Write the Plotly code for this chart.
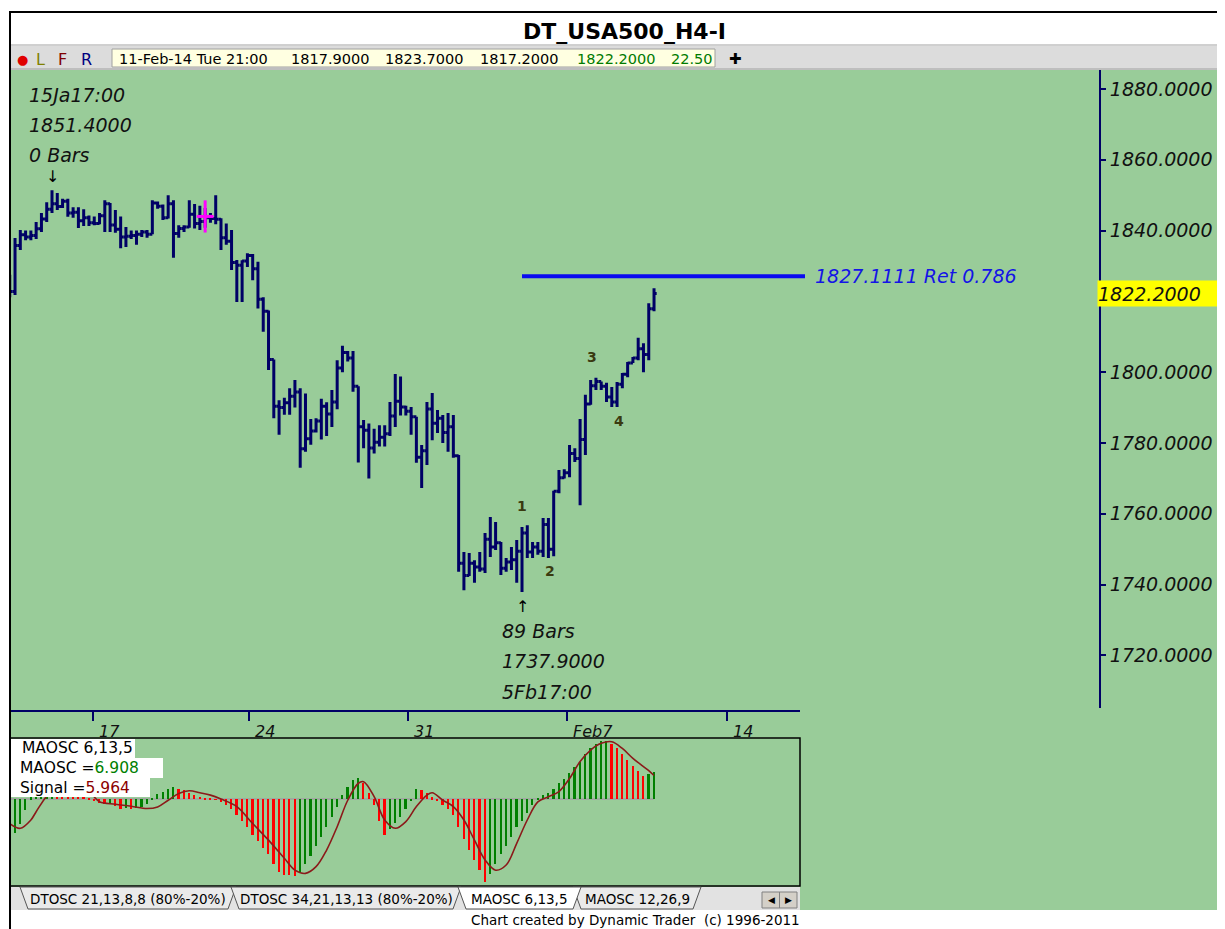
import plotly.graph_objects as go

# ---------------- data ----------------
bar_open = [1823.5, 1822.8, 1835.8, 1838.8, 1838.2, 1838.6, 1840.5, 1843.3, 1846.0, 1847.6,
            1846.8, 1848.3, 1845.0, 1845.2, 1842.8, 1843.6, 1842.2, 1842.0, 1844.2, 1847.6,
            1841.6, 1840.4, 1838.2, 1838.4, 1838.6, 1839.0, 1839.6, 1839.0, 1847.8, 1846.9,
            1843.6, 1847.6, 1839.2, 1840.6, 1841.0, 1844.6, 1842.0, 1842.6, 1843.6, 1843.4,
            1843.2, 1838.0, 1837.0, 1831.0, 1830.2, 1831.4, 1833.0, 1829.2, 1820.6, 1817.2,
            1803.6, 1790.4, 1790.0, 1791.4, 1793.2, 1794.4, 1778.4, 1781.2, 1783.4, 1786.2,
            1790.4, 1788.2, 1791.6, 1801.2, 1805.6, 1804.0, 1796.0, 1784.6, 1783.6, 1778.6,
            1780.2, 1781.6, 1782.6, 1787.6, 1791.8, 1790.2, 1789.0, 1787.4, 1776.0, 1777.8,
            1789.6, 1785.6, 1787.0, 1783.0, 1784.6, 1776.4, 1746.0, 1742.6, 1746.0, 1745.0,
            1744.4, 1752.8, 1750.6, 1751.8, 1744.6, 1746.4, 1747.0, 1749.4, 1754.6, 1749.2,
            1750.6, 1749.4, 1757.0, 1750.0, 1766.4, 1770.2, 1771.6, 1777.0, 1775.6, 1781.0,
            1791.0, 1796.2, 1797.4, 1796.0, 1793.0, 1791.6, 1796.6, 1799.4, 1802.6, 1804.0,
            1806.6, 1805.0, 1817.9]
bar_high = [1827.5, 1837.9, 1840.2, 1840.0, 1840.0, 1842.4, 1845.0, 1848.0, 1851.4, 1850.6,
            1849.0, 1849.0, 1846.6, 1846.6, 1846.0, 1844.3, 1844.0, 1845.0, 1848.6, 1847.8,
            1845.8, 1844.0, 1841.0, 1840.0, 1840.0, 1840.2, 1840.2, 1848.6, 1848.2, 1847.4,
            1850.0, 1848.6, 1841.5, 1841.5, 1848.6, 1847.5, 1847.0, 1846.4, 1845.0, 1850.0,
            1843.5, 1842.0, 1840.2, 1831.7, 1831.6, 1833.6, 1833.4, 1831.2, 1821.2, 1817.4,
            1803.6, 1792.1, 1792.8, 1795.5, 1797.8, 1795.5, 1794.0, 1786.8, 1787.0, 1792.5,
            1791.5, 1795.0, 1803.4, 1807.5, 1806.0, 1806.0, 1796.0, 1786.5, 1785.5, 1784.0,
            1785.0, 1785.0, 1791.6, 1799.5, 1798.8, 1790.5, 1790.2, 1787.4, 1779.4, 1791.6,
            1794.1, 1789.3, 1787.9, 1788.5, 1787.9, 1776.6, 1749.2, 1748.9, 1746.9, 1749.2,
            1754.6, 1759.1, 1757.7, 1752.0, 1747.5, 1750.6, 1752.6, 1756.3, 1756.8, 1752.0,
            1752.0, 1758.8, 1758.8, 1766.5, 1772.4, 1772.6, 1779.4, 1778.5, 1786.8, 1793.6,
            1797.8, 1798.4, 1797.4, 1797.0, 1795.8, 1797.2, 1799.8, 1802.9, 1804.3, 1809.7,
            1808.2, 1819.5, 1823.7]
bar_low = [1821.2, 1821.8, 1834.5, 1837.3, 1837.3, 1837.6, 1839.6, 1842.4, 1845.0, 1845.8,
           1846.4, 1843.9, 1843.6, 1840.7, 1841.3, 1841.3, 1841.5, 1841.8, 1839.6, 1839.6,
           1839.4, 1835.0, 1835.4, 1837.6, 1836.0, 1838.2, 1838.0, 1839.0, 1846.2, 1843.0,
           1843.4, 1832.3, 1838.0, 1839.6, 1840.8, 1840.6, 1840.2, 1840.8, 1842.2, 1841.8,
           1834.5, 1836.0, 1828.9, 1819.8, 1819.8, 1829.7, 1826.0, 1818.0, 1811.4, 1800.6,
           1787.0, 1782.3, 1788.0, 1788.0, 1790.0, 1773.0, 1777.5, 1779.5, 1783.0, 1781.0,
           1782.0, 1784.5, 1789.5, 1800.0, 1803.0, 1794.5, 1774.5, 1778.5, 1770.0, 1777.0,
           1779.0, 1779.0, 1782.0, 1784.5, 1787.8, 1787.8, 1782.3, 1774.4, 1767.3, 1773.8,
           1780.8, 1782.8, 1780.0, 1777.5, 1775.8, 1743.6, 1738.4, 1742.4, 1740.5, 1743.6,
           1743.3, 1747.8, 1749.8, 1742.7, 1743.6, 1744.1, 1740.5, 1737.9, 1747.5, 1747.5,
           1748.4, 1747.8, 1747.5, 1748.0, 1765.8, 1770.0, 1770.3, 1774.6, 1762.4, 1776.6,
           1790.8, 1795.0, 1795.0, 1791.6, 1790.2, 1790.2, 1795.5, 1798.6, 1802.6, 1803.4,
           1800.0, 1803.4, 1817.2]
bar_close = [1822.8, 1835.8, 1838.8, 1838.2, 1838.6, 1840.5, 1843.3, 1846.0, 1847.6, 1846.8,
             1848.3, 1845.0, 1845.2, 1842.8, 1843.6, 1842.2, 1842.0, 1844.2, 1847.6, 1841.6,
             1840.4, 1838.2, 1838.4, 1838.6, 1839.0, 1839.6, 1839.0, 1847.8, 1846.9, 1843.6,
             1847.6, 1839.2, 1840.6, 1841.0, 1844.6, 1842.0, 1842.6, 1843.6, 1843.4, 1843.2,
             1838.0, 1837.0, 1831.0, 1830.2, 1831.4, 1833.0, 1829.2, 1820.6, 1817.2, 1803.6,
             1790.4, 1790.0, 1791.4, 1793.2, 1794.4, 1778.4, 1781.2, 1783.4, 1786.2, 1790.4,
             1788.2, 1791.6, 1801.2, 1805.6, 1804.0, 1796.0, 1784.6, 1783.6, 1778.6, 1780.2,
             1781.6, 1782.6, 1787.6, 1791.8, 1790.2, 1789.0, 1787.4, 1776.0, 1777.8, 1789.6,
             1785.6, 1787.0, 1783.0, 1784.6, 1776.4, 1746.0, 1742.6, 1746.0, 1745.0, 1744.4,
             1752.8, 1750.6, 1751.8, 1744.6, 1746.4, 1747.0, 1749.4, 1754.6, 1749.2, 1750.6,
             1749.4, 1757.0, 1750.0, 1766.4, 1770.2, 1771.6, 1777.0, 1775.6, 1781.0, 1791.0,
             1796.2, 1797.4, 1796.0, 1793.0, 1791.6, 1796.6, 1799.4, 1802.6, 1804.0, 1806.6,
             1805.0, 1817.9, 1822.2]
bar_index = list(range(len(bar_open)))

osc_values = [-9.1, -8.7, -6.2, -2.7, 0.5, 3.0, 5.0, 6.5, 7.5, 7.2,
              6.2, 4.8, 3.4, 2.0, 1.0, 0.3, -0.5, -1.0, -1.3, -0.9,
              -1.8, -2.4, -2.2, -2.5, -2.3, -2.0, -1.2, 0.3, 1.2, 1.8,
              2.5, 3.0, 2.6, 2.2, 1.5, 1.0, 0.6, 0.3, 0.1, -0.2,
              -0.8, -1.5, -2.5, -4.0, -5.5, -7.0, -9.0, -10.5, -12.5, -14.0,
              -16.5, -18.5, -19.2, -19.3, -19.4, -18.5, -16.5, -14.5, -12.0, -9.5,
              -7.0, -4.5, -2.0, 1.0, 3.0, 4.8, 5.4, 4.0, 1.5, -1.5,
              -5.5, -9.0, -7.5, -6.0, -4.5, -2.5, -0.5, 2.5, 2.2, 1.5,
              0.5, -0.5, -1.5, -2.5, -4.0, -7.0, -10.0, -13.0, -15.5, -18.0,
              -20.9, -19.0, -16.5, -14.0, -12.0, -9.5, -7.0, -5.5, -3.5, -1.5,
              0.3, 1.0, 1.5, 2.5, 4.0, 5.0, 6.5, 8.0, 9.5, 11.5,
              13.0, 14.0, 14.6, 14.8, 14.0, 12.8, 11.3, 9.8, 8.3, 7.0,
              5.8, 6.3, 6.908]

signal_bars = [0, 2, 4, 5, 7, 9, 12, 15, 17, 20, 23, 26, 28, 30, 32, 34, 36, 38, 40, 43,
               46, 49, 52, 54, 56, 58, 60, 62, 64, 66, 67, 69, 71, 73, 75, 77, 79, 80, 82, 84,
               86, 88, 90, 92, 94, 96, 98, 100, 102, 104, 106, 108, 110, 112, 114, 116, 118, 120, 121, 122]
signal_values = [-6.2, -7.4, -5.3, -3.2, 0.8, 3.5, 4.5, 2.0, -0.7, -1.3, -1.8, -2.4, -2.0, -0.3, 1.4, 2.1, 1.6, 1.0, 0.0, -1.9,
                 -6.2, -10.4, -15.0, -18.0, -18.8, -17.1, -12.9, -7.0, -0.3, 4.0, 4.4, 0.6, -5.3, -7.4, -5.7, -1.9, 1.0, 1.6, -0.3, -1.9,
                 -5.3, -10.4, -15.4, -18.0, -16.7, -11.2, -5.3, -0.7, 0.6, 1.9, 5.2, 9.5, 12.4, 14.1, 14.5, 12.8, 10.3, 8.2, 7.2, 5.964]

date_tick_bars = [15.8, 45.3, 75.4, 105.5, 135.8]
date_tick_labels = ["17", "24", "31", "Feb7", "14"]
price_ticks = [1720, 1740, 1760, 1780, 1800, 1840, 1860, 1880]

swing_high_text = ["15Ja17:00", "1851.4000", "0 Bars"]
swing_low_text = ["89 Bars", "1737.9000", "5Fb17:00"]
retrace_level = 1827.1111
retrace_ratio = 0.786
retrace_start_bar = 97
last_close = 1822.2
cross_bar = [37]
cross_price = [1844.0]
info_items = ["11-Feb-14 Tue 21:00", "1817.9000", "1823.7000", "1817.2000", "1822.2000", "22.50"]
tab_labels = ["DTOSC 21,13,8,8 (80%-20%)", "DTOSC 34,21,13,13 (80%-20%)", "MAOSC 6,13,5", "MAOSC 12,26,9"]
osc_name = "MAOSC 6,13,5"
osc_last = "6.908"
signal_last = "5.964"

# ---------------- layout helpers ----------------
PAGE_W, PAGE_H = 1225, 929
OFF = 8                      # default page margin of the html body
W, H = PAGE_W - OFF, PAGE_H - OFF
X0, STEP = 9.75, 5.281       # page pixel of first bar, pixels per bar
P_REF_Y, P_REF, P_SCALE = 89, 1880.0, 3.54


def px(x):
    return (x - OFF) / W


def py(y):
    return 1 - (y - OFF) / H


NAVY = "#000066"
GREEN_BG = "#99CC99"

fig = go.Figure()

fig.add_trace(go.Ohlc(
    x=bar_index, open=bar_open, high=bar_high, low=bar_low, close=bar_close,
    increasing=dict(line=dict(color=NAVY, width=3)),
    decreasing=dict(line=dict(color=NAVY, width=3)),
    tickwidth=0.5, xaxis="x", yaxis="y", hoverinfo="skip"))

fig.add_trace(go.Scatter(x=cross_bar, y=cross_price, mode="markers",
                         marker=dict(symbol="line-ns", size=23, line=dict(color="#FF00FF", width=3)),
                         xaxis="x", yaxis="y", hoverinfo="skip"))
fig.add_trace(go.Scatter(x=cross_bar, y=cross_price, mode="markers",
                         marker=dict(symbol="line-ew", size=12, line=dict(color="#FF00FF", width=3)),
                         xaxis="x", yaxis="y", hoverinfo="skip"))

osc_colors = ["#FF0000"] + ["#008000" if osc_values[i] > osc_values[i - 1] else "#FF0000"
                            for i in range(1, len(osc_values))]
fig.add_trace(go.Bar(x=bar_index, y=osc_values, width=0.32, marker=dict(color=osc_colors, line=dict(width=0)),
                     xaxis="x2", yaxis="y2", hoverinfo="skip"))
fig.add_trace(go.Scatter(x=signal_bars, y=signal_values, mode="lines",
                         line=dict(color="#8B1A1A", width=1.6, shape="spline"),
                         xaxis="x2", yaxis="y2", hoverinfo="skip"))

shapes = []


def rect(x0, y0, x1, y1, fill=None, line=None, lw=1, layer="below"):
    d = dict(type="rect", xref="paper", yref="paper", x0=px(x0), x1=px(x1), y0=py(y1), y1=py(y0),
             layer=layer, line=dict(width=lw if line else 0, color=line or "rgba(0,0,0,0)"))
    if fill:
        d["fillcolor"] = fill
    shapes.append(d)


def hline(x0, x1, y, color, w, layer="above"):
    shapes.append(dict(type="line", xref="paper", yref="paper", x0=px(x0), x1=px(x1), y0=py(y), y1=py(y),
                       line=dict(color=color, width=w), layer=layer))


def vline(x, y0, y1, color, w, layer="above"):
    shapes.append(dict(type="line", xref="paper", yref="paper", x0=px(x), x1=px(x), y0=py(y0), y1=py(y1),
                       line=dict(color=color, width=w), layer=layer))


def poly(points, fill, line):
    p = "M " + " L ".join(f"{px(x):.5f},{py(y):.5f}" for x, y in points) + " Z"
    shapes.append(dict(type="path", xref="paper", yref="paper", path=p, fillcolor=fill,
                       line=dict(color=line, width=1), layer="above"))


# backgrounds & frame
rect(10, 70, 1225, 910, fill=GREEN_BG)
rect(10, 46, 1225, 68, fill="#DCDCDC")
hline(10, 1225, 45, "#A0A0A0", 1)
hline(10, 1225, 69, "#A8A8A8", 1.5)
rect(112, 49, 715, 67, fill="#FFFFE1", line="#A0A0A0", lw=1, layer="above")
hline(9, 1225, 12, "#000000", 2)
vline(10, 11, 929, "#000000", 2)

# oscillator panel
rect(10, 738, 800, 886, line="#000000", lw=1.5, layer="above")
shapes.append(dict(type="line", xref="x2", yref="y2", x0=bar_index[0], x1=bar_index[-1], y0=0, y1=0,
                   line=dict(color="#A0A0A0", width=1.5), layer="below"))
rect(11, 739, 135, 758, fill="#FFFFFF", layer="above")
rect(11, 758, 163, 778, fill="#FFFFFF", layer="above")
rect(11, 778, 150, 797, fill="#FFFFFF", layer="above")

# retracement line
shapes.append(dict(type="line", xref="x", yref="y", x0=retrace_start_bar, x1=(805 - X0) / STEP,
                   y0=retrace_level, y1=retrace_level, line=dict(color="#0A0AF0", width=4), layer="above"))

# tab strip
rect(11, 887, 800, 910, fill="#E2E2E2", layer="above")
tab_geom = [(20, 236), (231, 461), (458, 581), (573, 701)]
order = [0, 1, 3, 2]
for k in order:
    a, b = tab_geom[k]
    active = tab_labels[k] == osc_name
    poly([(a, 887), (b, 887), (b - 8, 909), (a + 8, 909)], "#FFFFFF" if active else "#EAEAEA", "#555555")
rect(762, 892, 797, 908, fill="#D4D0C8", line="#808080", lw=1, layer="above")
vline(779.5, 892, 908, "#808080", 1)

annotations = []


def text(x, y, s, size, color="#000000", family="DejaVu Sans", anchor="left", bold=False, italic=False, **kw):
    f = dict(family=family, size=size, color=color)
    if bold:
        f["weight"] = "bold"
    if italic:
        f["style"] = "italic"
    d = dict(x=px(x), y=py(y), xref="paper", yref="paper", text=s, showarrow=False,
             xanchor=anchor, yanchor="middle", font=f)
    d.update(kw)
    annotations.append(d)


# title & info bar
text(624, 31, "DT_USA500_H4-I", 22, bold=True, anchor="center")
text(22, 59, "●", 13, color="#E00000", anchor="center")
text(40, 59, "L", 16, color="#808000", anchor="center")
text(62, 59, "F", 16, color="#800000", anchor="center")
text(86, 59, "R", 16, color="#000080", anchor="center")
info_x = [117, 289, 383, 478, 575, 669]
info_c = ["#000000", "#000000", "#000000", "#000000", "#007A00", "#007A00"]
for s, x, c in zip(info_items, info_x, info_c):
    text(x, 59, s, 14.5, color=c)
text(735, 59, "✚", 15, anchor="center")

# swing annotations
for s, y in zip(swing_high_text, [95, 125, 155]):
    text(27, y, s, 19, color="#111111", italic=True)
text(52, 177, "↓", 16, anchor="center")
text(522, 606, "↑", 16, anchor="center")
for s, y in zip(swing_low_text, [631, 661, 692]):
    text(500, y, s, 19, color="#111111", italic=True)

# wave labels
for s, x, y in zip(["1", "2", "3", "4"], [522, 550, 592, 619], [506, 571, 357, 421]):
    text(x, y, s, 14, color="#3A3A10", bold=True, anchor="center")

# retracement label & last price
annotations.append(dict(x=px(813), y=retrace_level, xref="paper", yref="y",
                        text=f"{retrace_level:.4f} Ret {retrace_ratio}", showarrow=False,
                        xanchor="left", yanchor="middle",
                        font=dict(family="DejaVu Sans", style="italic", size=19, color="#1414E6")))
annotations.append(dict(x=px(1097), y=last_close, xref="paper", yref="y", text=f"{last_close:.4f}",
                        showarrow=False, xanchor="left", yanchor="middle", bgcolor="#FFFF00",
                        width=126, height=25, align="left", borderpad=0,
                        font=dict(family="DejaVu Sans", style="italic", size=19, color="#111111")))

# date labels
for v, s in zip(date_tick_bars, date_tick_labels):
    annotations.append(dict(x=v, y=py(731), xref="x2", yref="paper", text=s, showarrow=False,
                            xanchor="left", yanchor="middle", xshift=4,
                            font=dict(family="DejaVu Sans", style="italic", size=16, color="#111111")))

# oscillator legend
text(20, 748, osc_name, 15.5)
text(18, 768, f"MAOSC =<span style='color:#008000'>{osc_last}</span>", 15.5)
text(18, 788, f"Signal =<span style='color:#8B0000'>{signal_last}</span>", 15.5)

# tabs text
for k, s in enumerate(tab_labels):
    a, b = tab_geom[k]
    text((a + b) / 2, 899, s, 13.5, anchor="center")
text(771, 900, "◀", 9, anchor="center")
text(788, 900, "▶", 9, anchor="center")

# footer
text(802, 920, "Chart created by Dynamic Trader  (c) 1996-2011", 13.5, anchor="right")

p_top = P_REF + (P_REF_Y - 70) / P_SCALE
p_bot = P_REF - (708 - P_REF_Y) / P_SCALE

fig.update_layout(
    width=W, height=H, margin=dict(l=0, r=0, t=0, b=0),
    paper_bgcolor="#FFFFFF", plot_bgcolor="rgba(0,0,0,0)", showlegend=False,
    xaxis=dict(domain=[px(10), px(1099)], range=[(10 - X0) / STEP, (1099 - X0) / STEP],
               visible=False, rangeslider=dict(visible=False), fixedrange=True),
    yaxis=dict(domain=[py(708), py(70)], range=[p_bot, p_top], side="right", anchor="x",
               tickvals=price_ticks, tickformat=".4f", ticks="outside", ticklen=5, tickwidth=1.5,
               tickcolor=NAVY, showline=True, linecolor=NAVY, linewidth=2, showgrid=False,
               zeroline=False, tickfont=dict(family="DejaVu Sans", style="italic", size=19, color="#111111")),
    xaxis2=dict(domain=[px(10), px(800)], range=[(10 - X0) / STEP, (800 - X0) / STEP],
                anchor="free", position=py(711), side="top", ticks="inside", ticklen=9, tickwidth=2,
                tickcolor=NAVY, showline=True, linecolor=NAVY, linewidth=2, tickvals=date_tick_bars,
                showticklabels=False, showgrid=False, zeroline=False),
    yaxis2=dict(domain=[py(886), py(738)], range=[-22.0, 15.45], anchor="x2", visible=False),
    shapes=shapes, annotations=annotations, bargap=0,
)

fig.write_html("out.html")
